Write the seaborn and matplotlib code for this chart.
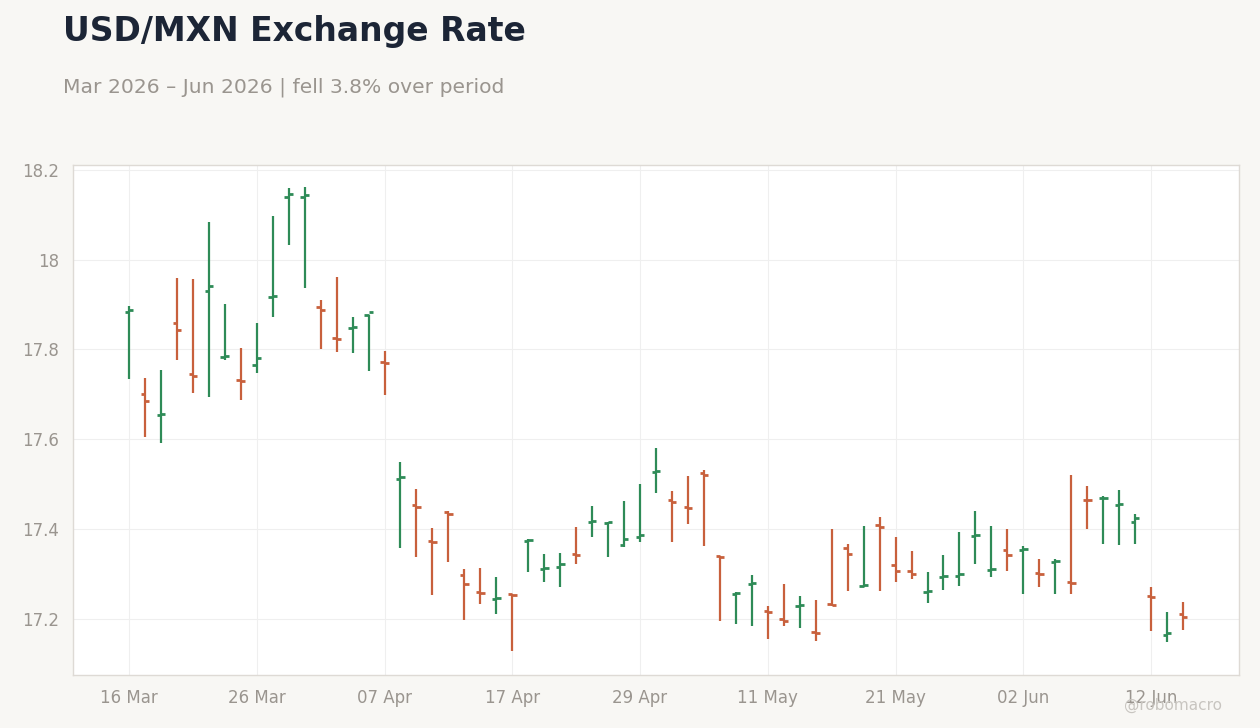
import pandas as pd
import numpy as np
import matplotlib
matplotlib.use("Agg")
import matplotlib.pyplot as plt
import seaborn as sns

# Daily OHLC, USD/MXN, trading days from 16 Mar 2026
dates = pd.bdate_range("2026-03-16", periods=67)
opens = [17.883, 17.700, 17.654, 17.858, 17.744, 17.930, 17.782, 17.732, 17.765, 17.916,
         18.140, 18.140, 17.894, 17.826, 17.847, 17.876, 17.771, 17.512, 17.453, 17.374,
         17.438, 17.297, 17.259, 17.245, 17.254, 17.373, 17.311, 17.315, 17.345, 17.416,
         17.414, 17.365, 17.381, 17.526, 17.464, 17.449, 17.524, 17.340, 17.255, 17.277,
         17.217, 17.199, 17.229, 17.171, 17.233, 17.357, 17.273, 17.408, 17.319, 17.306,
         17.260, 17.293, 17.295, 17.385, 17.308, 17.353, 17.354, 17.301, 17.326, 17.281,
         17.465, 17.468, 17.454, 17.415, 17.250, 17.164, 17.210]
highs = [17.896, 17.737, 17.755, 17.958, 17.956, 18.083, 17.900, 17.802, 17.859, 18.097,
         18.159, 18.162, 17.911, 17.961, 17.873, 17.877, 17.797, 17.550, 17.490, 17.403,
         17.441, 17.310, 17.314, 17.294, 17.256, 17.377, 17.345, 17.347, 17.405, 17.452,
         17.416, 17.463, 17.501, 17.581, 17.485, 17.518, 17.532, 17.340, 17.260, 17.298,
         17.229, 17.278, 17.250, 17.241, 17.399, 17.367, 17.407, 17.427, 17.383, 17.350,
         17.305, 17.341, 17.394, 17.439, 17.407, 17.399, 17.363, 17.332, 17.332, 17.521,
         17.496, 17.473, 17.487, 17.434, 17.270, 17.214, 17.238]
lows = [17.733, 17.604, 17.592, 17.777, 17.702, 17.693, 17.777, 17.688, 17.747, 17.872,
        18.033, 17.937, 17.800, 17.794, 17.791, 17.751, 17.698, 17.357, 17.338, 17.253,
        17.326, 17.198, 17.233, 17.210, 17.128, 17.304, 17.281, 17.270, 17.321, 17.381,
        17.338, 17.359, 17.370, 17.481, 17.372, 17.410, 17.361, 17.196, 17.188, 17.184,
        17.155, 17.184, 17.179, 17.150, 17.228, 17.261, 17.270, 17.261, 17.281, 17.288,
        17.235, 17.264, 17.273, 17.321, 17.294, 17.307, 17.256, 17.270, 17.254, 17.254,
        17.399, 17.367, 17.365, 17.367, 17.172, 17.148, 17.176]
closes = [17.888, 17.684, 17.656, 17.844, 17.740, 17.941, 17.785, 17.730, 17.780, 17.918,
          18.147, 18.143, 17.888, 17.824, 17.850, 17.883, 17.769, 17.515, 17.448, 17.372,
          17.433, 17.278, 17.257, 17.247, 17.252, 17.376, 17.313, 17.321, 17.343, 17.418,
          17.415, 17.378, 17.386, 17.528, 17.461, 17.447, 17.521, 17.338, 17.257, 17.279,
          17.215, 17.195, 17.231, 17.169, 17.231, 17.344, 17.275, 17.404, 17.306, 17.299,
          17.262, 17.295, 17.299, 17.386, 17.310, 17.343, 17.356, 17.299, 17.328, 17.279,
          17.464, 17.470, 17.456, 17.424, 17.248, 17.168, 17.204]

df = pd.DataFrame({"date": dates, "open": opens, "high": highs, "low": lows, "close": closes})
df["idx"] = np.arange(len(df))
up_color = "#2e8b57"
down_color = "#c8603c"
df["color"] = np.where(df["close"] >= df["open"], up_color, down_color)

bg = "#f8f7f4"
text_grey = "#9a958f"

sns.set_theme(style="whitegrid")
plt.rcParams["font.family"] = ["DejaVu Sans"]

fig = plt.figure(figsize=(12.6, 7.28), dpi=100, facecolor=bg)
ax = fig.add_axes([0.058, 0.073, 0.9253, 0.7006])
ax.set_facecolor("white")

tick_w = 0.27
ax.vlines(df["idx"], df["low"], df["high"], colors=df["color"], linewidth=1.6, zorder=3)
ax.hlines(df["open"], df["idx"] - tick_w, df["idx"], colors=df["color"], linewidth=2.0, zorder=3)
ax.hlines(df["close"], df["idx"], df["idx"] + tick_w, colors=df["color"], linewidth=2.0, zorder=3)

ax.set_xlim(-3.5, 69.5)
ax.set_ylim(17.075, 18.211)

xt = list(range(0, len(df), 8))
ax.set_xticks(xt)
ax.set_xticklabels([df["date"][i].strftime("%d %b") for i in xt])
ax.set_yticks([17.2, 17.4, 17.6, 17.8, 18.0, 18.2])
ax.set_yticklabels(["17.2", "17.4", "17.6", "17.8", "18", "18.2"])

ax.grid(True, color="#efefef", linewidth=0.8)
ax.tick_params(axis="both", colors=text_grey, labelsize=12, length=4, width=0.8,
               direction="out", pad=6)
ax.tick_params(axis="both", color="#c8c4bf")
for s in ax.spines.values():
    s.set_color("#dedad5")
    s.set_linewidth(1.0)
ax.set_xlabel("")
ax.set_ylabel("")

fig.text(0.05, 0.943, "USD/MXN Exchange Rate", fontsize=23.8, fontweight="bold",
         color="#1c2536", va="baseline")
fig.text(0.05, 0.8735, "Mar 2026 \u2013 Jun 2026 | fell 3.8% over period", fontsize=14.6,
         color=text_grey, va="baseline")
fig.text(0.97, 0.025, "@robomacro", fontsize=11, color="#c8c5c0", ha="right", va="baseline")

fig.savefig("out.png", dpi=100, facecolor=bg)
